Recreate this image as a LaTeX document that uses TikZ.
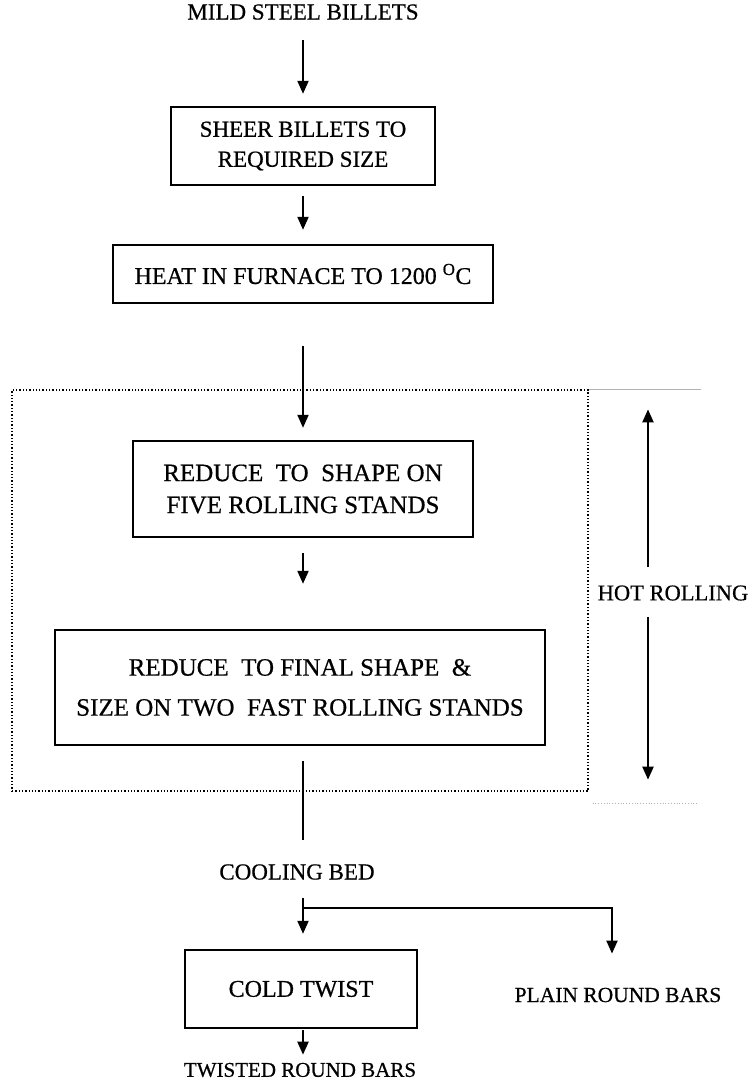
\documentclass[tikz,border=0pt]{standalone}
\usepackage{fontspec}
\setmainfont{Liberation Serif}[FakeBold=0.6]
\usetikzlibrary{arrows.meta}
\newcommand{\fsz}[2]{\fontsize{#1}{#2}\selectfont}
\begin{document}
\begin{tikzpicture}[x=1pt,y=-1pt,
  box/.style={draw, line width=2.4pt, align=center, inner sep=0pt},
  arr/.style={line width=2.1pt, -{Triangle[width=11pt,length=13pt]}},
  bare/.style={line width=2.1pt},
  lbl/.style={inner sep=0pt, align=center},
  frame/.style={draw, dotted, line width=1.3pt, inner sep=0pt},
  ghost/.style={gray!60, line width=0.8pt}]
\useasboundingbox (0,0) rectangle (751,1082);

% flow column
\coordinate (col) at (303,0);

\node[lbl, font=\fsz{23}{27}] (src) at (303,12) {MILD STEEL BILLETS};
\node[box, minimum width=264pt, minimum height=78pt, font=\fsz{23}{30}] (sheer) at (303,146) {SHEER BILLETS TO\\REQUIRED SIZE};
\node[box, minimum width=380pt, minimum height=58pt, font=\fsz{24}{28}] (heat) at (303,274) {HEAT IN FURNACE TO 1200 \textsuperscript{O}C};

% hot rolling zone
\node[frame, minimum width=576pt, minimum height=401pt] (zone) at (300,590.5) {};
\draw[ghost] (zone.north east) -- ++(112,0);
\draw[ghost, dotted] ([xshift=4pt, yshift=-12pt]zone.south east) -- ++(105,0);

\node[box, minimum width=340pt, minimum height=96pt, font=\fsz{25}{32}] (red1) at (303,489) {REDUCE\ \ TO\ \ SHAPE ON\\FIVE ROLLING STANDS};
\node[box, minimum width=490pt, minimum height=115pt, font=\fsz{25}{40}] (red2) at (300,687.5) {REDUCE\ \ TO FINAL SHAPE\ \ \&\\SIZE ON TWO\ \ FAST ROLLING STANDS};

\node[lbl, font=\fsz{23}{27}] (cool) at (297,872) {COOLING BED};
\node[box, minimum width=232pt, minimum height=78pt, font=\fsz{24}{28}] (cold) at (301,989) {COLD TWIST};
\node[lbl, font=\fsz{21.5}{26}] (plainbars) at (618,995) {PLAIN ROUND BARS};
\node[lbl, font=\fsz{21}{25}] (twisted) at (300,1070) {TWISTED ROUND BARS};

\node[lbl, font=\fsz{22.5}{26}] (hot) at (673,593) {HOT ROLLING};
\coordinate (hotcol) at (648,0);

% connectors
\draw[arr, shorten <=20pt, shorten >=12pt] (src.south -| col) -- (sheer.north -| col);
\draw[arr, shorten <=10pt, shorten >=14pt] (sheer.south -| col) -- (heat.north -| col);
\draw[arr, shorten <=42pt, shorten >=12pt] (heat.south -| col) -- (red1.north -| col);
\draw[arr, shorten <=15pt, shorten >=45pt] (red1.south -| col) -- (red2.north -| col);
\draw[bare, shorten <=15pt, shorten >=24pt] (red2.south -| col) -- (cool.north -| col);
\coordinate (split) at ([yshift=-28pt]cool.south -| col);
\draw[bare, shorten <=18pt] (cool.south -| col) -- (split);
\draw[arr, shorten >=15pt] (split) -- (cold.north -| col);
\draw[arr] (split) -| ([xshift=-6pt, yshift=34pt]plainbars.north);
\draw[arr, shorten <=1pt, shorten >=8pt] (cold.south -| col) -- (twisted.north -| col);

% extent of the hot rolling stage
\draw[arr, shorten <=18pt, shorten >=20pt] (hot.north -| hotcol) -- (zone.north -| hotcol);
\draw[arr, shorten <=16pt, shorten >=12pt] (hot.south -| hotcol) -- (zone.south -| hotcol);
\end{tikzpicture}
\end{document}
